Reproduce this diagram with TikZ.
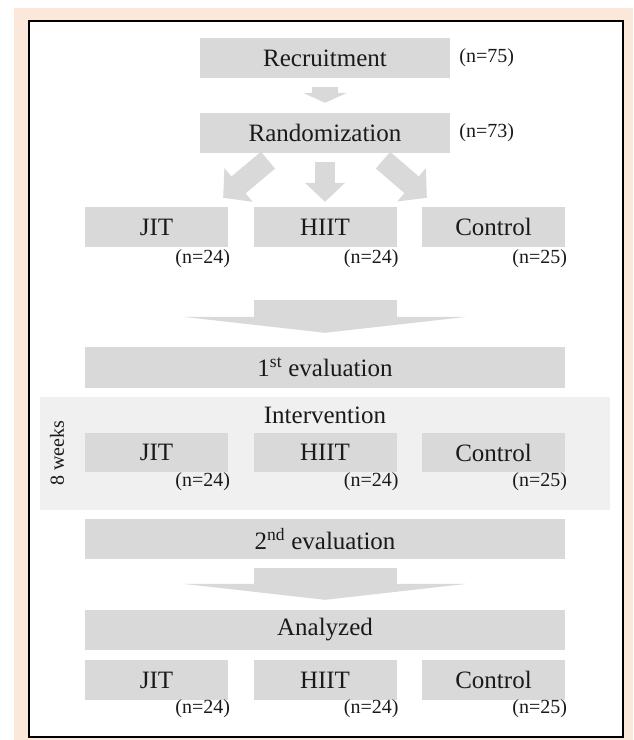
\documentclass[tikz,border=0pt]{standalone}
\usepackage{fontspec}
\setmainfont{Liberation Serif}
\usetikzlibrary{arrows.meta,calc}
\definecolor{peach}{HTML}{FBE8DB}
\definecolor{boxgray}{HTML}{D9D9D9}
\definecolor{panelgray}{HTML}{F0F0F0}
\definecolor{ink}{HTML}{1A1A1A}
\begin{document}
\begin{tikzpicture}[x=1pt,y=-1pt,
  box/.style={rectangle, fill=boxgray, inner sep=0pt, text=ink, font=\fontsize{25}{28}\selectfont},
  grp/.style={box, minimum width=143pt, minimum height=40pt},
  wide/.style={box, minimum width=480pt, minimum height=40pt},
  topbox/.style={box, minimum width=250pt, minimum height=40pt},
  nlab/.style={inner sep=0pt, text=ink, font=\fontsize{20}{22}\selectfont},
  smallarrow/.style={draw=boxgray, line width=26pt, -{Triangle[width=44pt,length=10pt,line width=0pt]}},
  midarrow/.style={draw=boxgray, line width=20pt, -{Triangle[width=40pt,length=19pt,line width=0pt]}},
  diagarrow/.style={draw=boxgray, line width=22pt, -{Triangle[width=44pt,length=20pt,line width=0pt]}},
  chevron/.style={draw=boxgray, line width=143pt, -{Triangle[width=284pt,length=16pt,line width=0pt]}}
]
\useasboundingbox (0,0) rectangle (633,740);
\fill[white] (0,0) rectangle (633,740);
\fill[peach] (14,8) rectangle (633,740);
\fill[white] (29,21) rectangle (623,737);
\draw[line width=2.2pt] (29,21) rectangle (623,737);

% top
\node[topbox] (rec) at (325,58) {Recruitment};
\node[topbox] (rand) at (325,133) {Randomization};
\node[nlab, anchor=west] (n75) at ($(rec.east)+(9,0)$) {(n=75)};
\node[nlab, anchor=west] (n73) at ($(rand.east)+(9,0)$) {(n=73)};

% row 1
\node[grp] (jit1) at (156.5,227) {JIT};
\node[grp] (hiit1) at (325,227) {HIIT};
\node[grp] (ctl1) at (493.5,227) {Control};
\node[nlab, anchor=east] (nj1) at ($(jit1.south east)+(2,11)$) {(n=24)};
\node[nlab, anchor=east] (nh1) at ($(hiit1.south east)+(2,11)$) {(n=24)};
\node[nlab, anchor=east] (nc1) at ($(ctl1.south east)+(2,11)$) {(n=25)};

% evaluations
\node[wide, minimum height=41pt] (eval1) at (325,367.5) {1\textsuperscript{st} evaluation};

% intervention panel
\node[rectangle, fill=panelgray, inner sep=0pt, minimum width=570pt, minimum height=113pt] (panel) at (325,453.5) {};
\node[nlab, font=\fontsize{25}{28}\selectfont] (interv) at (325,415) {Intervention};
\node[nlab, rotate=90] (weeks) at (57,453) {8 weeks};
\node[grp, minimum height=39pt] (jit2) at (156.5,452.5) {JIT};
\node[grp, minimum height=39pt] (hiit2) at (325,452.5) {HIIT};
\node[grp, minimum height=39pt] (ctl2) at (493.5,452.5) {Control};
\node[nlab, anchor=east] (nj2) at ($(jit2.south east)+(2,9)$) {(n=24)};
\node[nlab, anchor=east] (nh2) at ($(hiit2.south east)+(2,9)$) {(n=24)};
\node[nlab, anchor=east] (nc2) at ($(ctl2.south east)+(2,9)$) {(n=25)};

\node[wide] (eval2) at (325,539) {2\textsuperscript{nd} evaluation};
\node[wide] (anal) at (325,630) {Analyzed};

% row 3
\node[grp] (jit3) at (156.5,680) {JIT};
\node[grp] (hiit3) at (325,680) {HIIT};
\node[grp] (ctl3) at (493.5,680) {Control};
\node[nlab, anchor=east] (nj3) at ($(jit3.south east)+(2,8)$) {(n=24)};
\node[nlab, anchor=east] (nh3) at ($(hiit3.south east)+(2,8)$) {(n=24)};
\node[nlab, anchor=east] (nc3) at ($(ctl3.south east)+(2,8)$) {(n=25)};

% arrows
\draw[smallarrow, shorten <=9pt, shorten >=10pt] (rec.south) -- (rand.north);
\draw[midarrow, shorten <=9pt, shorten >=5pt] (rand.south) -- (hiit1.north);
\draw[diagarrow] ($(rand.south)+(-57,7)$) -- ($(jit1.north east)+(-5,-9)$);
\draw[diagarrow] ($(rand.south)+(58,7)$) -- ($(ctl1.north west)+(5,-9)$);
\draw[chevron, shorten <=53pt, shorten >=14pt] (hiit1.south) -- (eval1.north);
\draw[chevron, shorten <=9pt, shorten >=10pt] (eval2.south) -- (anal.north);
\end{tikzpicture}
\end{document}
